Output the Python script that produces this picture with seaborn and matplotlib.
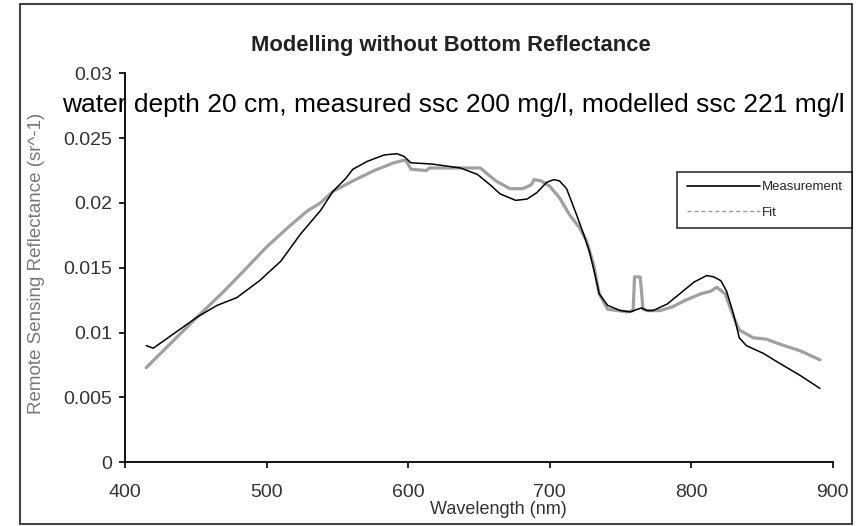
import matplotlib
matplotlib.use("Agg")
import matplotlib.pyplot as plt
import seaborn as sns
import pandas as pd
from matplotlib.lines import Line2D
from matplotlib.patches import Rectangle

# ---- data ----
meas_wl = [415, 420, 451, 465, 479, 495, 510, 524, 538, 547, 556, 561, 571, 583,
           592, 597, 602, 617, 637, 649, 658, 665, 676, 684, 691, 698, 703, 707,
           712, 719, 724, 728, 732, 735, 741, 750, 757, 762, 765, 769, 773, 783,
           792, 802, 811, 816, 821, 825, 830, 834, 839, 851, 863, 877, 891]
meas_val = [0.0090, 0.0088, 0.0112, 0.0121, 0.0127, 0.0140, 0.0155, 0.0176, 0.0194,
            0.0209, 0.0219, 0.0226, 0.0232, 0.0237, 0.0238, 0.0236, 0.0231, 0.0230,
            0.0227, 0.0222, 0.0214, 0.0207, 0.0202, 0.0203, 0.0208, 0.0216, 0.0218,
            0.0217, 0.0211, 0.0191, 0.0176, 0.0163, 0.0145, 0.0130, 0.0121, 0.0117,
            0.0116, 0.0118, 0.0119, 0.0117, 0.0117, 0.0122, 0.0130, 0.0139, 0.0144,
            0.0143, 0.0140, 0.0132, 0.0114, 0.0096, 0.0090, 0.0084, 0.0076, 0.0067,
            0.0057]

fit_wl = [415, 451, 470, 486, 500, 515, 529, 538, 547, 561, 576, 590, 597, 599,
          602, 613, 615, 628, 651, 662, 672, 681, 687, 689, 694, 700, 707, 714,
          721, 726, 731, 735, 741, 755, 759, 760, 764, 766, 769, 778, 787, 796,
          807, 814, 818, 824, 830, 834, 844, 853, 863, 877, 891]
fit_val = [0.0073, 0.0112, 0.0132, 0.0150, 0.0166, 0.0181, 0.0194, 0.0200, 0.0209,
           0.0217, 0.0225, 0.0231, 0.0233, 0.0232, 0.0226, 0.0225, 0.0227, 0.0227,
           0.0227, 0.0217, 0.0211, 0.0211, 0.0214, 0.0218, 0.0217, 0.0213, 0.0204,
           0.0191, 0.0181, 0.0171, 0.0153, 0.0130, 0.0118, 0.0116, 0.0117, 0.0143,
           0.0143, 0.0118, 0.0117, 0.0117, 0.0120, 0.0125, 0.0130, 0.0132, 0.0135,
           0.0130, 0.0112, 0.0102, 0.0096, 0.0095, 0.0091, 0.0086, 0.0079]

x_ticks = [400, 500, 600, 700, 800, 900]
y_ticks = [0, 0.005, 0.01, 0.015, 0.02, 0.025, 0.03]
y_tick_labels = ["0", "0.005", "0.01", "0.015", "0.02", "0.025", "0.03"]

title = "Modelling without Bottom Reflectance"
note = "water depth 20 cm, measured ssc 200 mg/l, modelled ssc 221 mg/l"
x_label = "Wavelength (nm)"
y_label = "Remote Sensing Reflectance (sr^-1)"
series_names = ["Measurement", "Fit"]

# ---- build frames ----
df_meas = pd.DataFrame({"Wavelength": meas_wl, "Rrs": meas_val, "Series": series_names[0]})
df_fit = pd.DataFrame({"Wavelength": fit_wl, "Rrs": fit_val, "Series": series_names[1]})

sns.set_theme(style="white")
plt.rcParams["font.family"] = ["Liberation Sans", "DejaVu Sans"]

W, H = 856, 526
fig = plt.figure(figsize=(W / 100, H / 100), dpi=100)
ax = fig.add_axes([125 / W, 1 - 462.3 / H, (832.7 - 125) / W, (462.3 - 73.3) / H])

sns.lineplot(data=df_fit, x="Wavelength", y="Rrs", ax=ax, color="#a0a0a0",
             linewidth=2.3, sort=False, estimator=None, legend=False)
sns.lineplot(data=df_meas, x="Wavelength", y="Rrs", ax=ax, color="black",
             linewidth=1.1, sort=False, estimator=None, legend=False)

ax.set_xlim(400, 900)
ax.set_ylim(0, 0.03)
ax.set_xticks(x_ticks)
ax.set_xticklabels([str(t) for t in x_ticks])
ax.set_yticks(y_ticks)
ax.set_yticklabels(y_tick_labels)
ax.set_xlabel("")
ax.set_ylabel("")

for s in ["top", "right"]:
    ax.spines[s].set_visible(False)
for s in ["left", "bottom"]:
    ax.spines[s].set_color("black")
    ax.spines[s].set_linewidth(1.3)
ax.tick_params(axis="both", which="major", direction="out", length=4.3, width=1.2,
               color="black", labelsize=14, labelcolor="#333333",
               left=True, bottom=True)
ax.tick_params(axis="x", pad=11)
ax.tick_params(axis="y", pad=5)
ax.set_facecolor("white")

# titles / labels as figure text
fig.text(451 / W, 1 - 46 / H, title, ha="center", va="center", fontsize=15.8,
         fontweight="bold", color="#222222")
fig.text(62 / W, 1 - 112 / H, note, ha="left", va="baseline", fontsize=19,
         color="black")
fig.text(498 / W, 1 - 510 / H, x_label, ha="center", va="center", fontsize=13,
         color="#333333")
fig.text(37 / W, 1 - 263 / H, y_label, ha="center", va="center", fontsize=13.5,
         rotation=90, color="#777777")

# legend
handles = [Line2D([], [], color="black", lw=1.2),
           Line2D([], [], color="#9a9a9a", lw=1.0, linestyle=(0, (3, 2)))]
leg = fig.legend(handles, series_names, loc="upper right",
                 bbox_to_anchor=(852 / W, 1 - 172 / H), borderaxespad=0,
                 fontsize=9.5, handlelength=5.6, handletextpad=0.1,
                 labelspacing=1.0, borderpad=0.7, frameon=True, fancybox=False)
leg.get_frame().set_edgecolor("black")
leg.get_frame().set_linewidth(1.2)

# outer chart border
fig.patches.append(Rectangle((20 / W, 1 - 524 / H), 831.7 / W, 520 / H,
                             transform=fig.transFigure, fill=False,
                             edgecolor="#444444", linewidth=1.5))

fig.savefig("out.png", dpi=100, facecolor="white")
